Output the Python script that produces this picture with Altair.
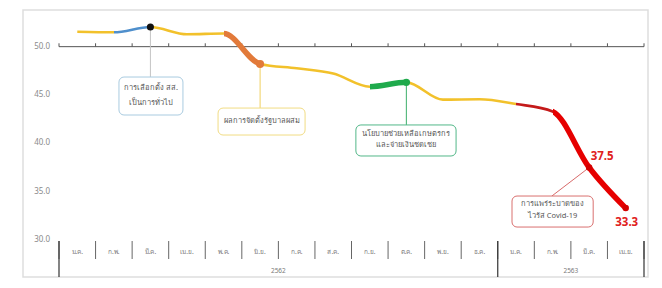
import altair as alt
import pandas as pd

# ---------------- data ----------------
months = ["ม.ค.", "ก.พ.", "มี.ค.", "เม.ย.", "พ.ค.", "มิ.ย.", "ก.ค.", "ส.ค.",
          "ก.ย.", "ต.ค.", "พ.ย.", "ธ.ค.", "ม.ค.", "ก.พ.", "มี.ค.", "เม.ย."]
years = ["2562", "2563"]
year_mid = [6, 14]
year_bounds = [0, 12, 16]
values = [51.55, 51.49, 52.03, 51.28, 51.36, 48.21, 47.76, 47.22,
          45.86, 46.31, 44.52, 44.56, 44.07, 43.3, 37.5, 33.3]
y_ticks = [30, 35, 40, 45, 50]

# coloured stretches of the line (from month index, to month index, colour)
thin_from = [1, 4, 8, 12, 13]
thin_to = [2, 5, 9, 13, 15]
thin_col = ["#4f8fcc", "#e27a3a", "#1faa4c", "#c41a1a", "#e60000"]
thick_from = [4, 8, 13]
thick_to = [5, 9, 15]
thick_col = ["#e27a3a", "#1faa4c", "#e60000"]
base_col = "#f2c12b"

# highlighted points (month index, colour, size)
dot_idx = [2, 5, 9, 14, 15]
dot_col = ["#111111", "#e27a3a", "#1faa4c", "#d40000", "#d40000"]
dot_size = [50, 64, 55, 42, 42]

# annotation boxes (in month / value units)
box_x1 = [1.64, 4.35, 8.12, 12.39]
box_x2 = [3.39, 6.73, 10.86, 14.61]
box_y1 = [46.86, 43.65, 41.90, 34.55]
box_y2 = [42.93, 40.86, 38.69, 31.34]
box_stroke = ["#a9cbe0", "#f1dc84", "#52b788", "#d9706f"]

# connectors: from point to box
con_x = [2.5, 5.5, 9.5, 14.5]
con_y = [52.03, 48.21, 46.31, 37.5]
con_x2 = [2.5, 5.5, 9.5, 13.48]
con_y2 = [46.86, 43.65, 41.90, 34.55]
con_col = ["#c4c4c4", "#f0d060", "#3cae6a", "#d86a6a"]

ann_text = ["การเลือกตั้ง สส.", "เป็นการทั่วไป", "ผลการจัดตั้งรัฐบาลผสม",
            "นโยบายช่วยเหลือเกษตรกร", "และจ่ายเงินชดเชย",
            "การแพร่ระบาดของ", "ไวรัส Covid-19"]
ann_x = [2.52, 2.52, 5.54, 9.49, 9.49, 13.5, 13.5]
ann_y = [45.72, 44.17, 42.26, 40.97, 39.83, 33.72, 32.48]

val_labels = ["37.5", "33.3"]
val_idx = [14, 15]
val_dx = [13, 1]
val_dy = [-11, 15]

# ---------------- frames ----------------
df = pd.DataFrame({"m": [i + 0.5 for i in range(16)], "v": values, "label": months})
xs = alt.Scale(domain=[0, 16], nice=False, zero=False)
ys = alt.Scale(domain=[30, 54], nice=False, zero=False)
xenc = alt.X("m:Q", scale=xs, axis=None)
yenc = alt.Y("v:Q", scale=ys, axis=None)

n = len(values) - 1.0
T = "rgba(0,0,0,0)"


def grad(default, starts, ends, cols):
    stops = [(0.0, default)]
    for s, e, c in zip(starts, ends, cols):
        stops += [(s / n, default), (s / n, c), (e / n, c), (e / n, default)]
    stops.append((1.0, default))
    stops = sorted(stops, key=lambda t: t[0])
    return alt.Gradient(gradient="linear", x1=0, x2=1, y1=0, y2=0,
                        stops=[alt.GradientStop(offset=o, color=c) for o, c in stops])


# keep order stable for equal offsets
def grad_ordered(default, starts, ends, cols):
    stops = [(0.0, default)]
    for s, e, c in zip(starts, ends, cols):
        stops += [(s / n, stops[-1][1] if stops[-1][0] == s / n else default), (s / n, c), (e / n, c)]
        stops.append((e / n, default))
    stops.append((1.0, stops[-1][1]))
    return alt.Gradient(gradient="linear", x1=0, x2=1, y1=0, y2=0,
                        stops=[alt.GradientStop(offset=o, color=c) for o, c in stops])


thin_grad = grad_ordered(base_col, thin_from, thin_to, thin_col)
thick_grad = grad_ordered(T, thick_from, thick_to, thick_col)

# panel border
one = pd.DataFrame({"a": [0]})
panel = alt.Chart(one).mark_rect(fill="white", stroke="#dedede", strokeWidth=1.5).encode(
    x=alt.value(-36), x2=alt.value(589), y=alt.value(2), y2=alt.value(269))

# y labels
ylabels = alt.Chart(pd.DataFrame({"v": y_ticks})).mark_text(
    align="right", baseline="middle", fontSize=8, color="#8a8a8a", font="Noto Sans").encode(
    x=alt.value(-9), y=yenc, text=alt.Text("v:Q", format=".1f"))

base_line = alt.Chart(df).mark_line(interpolate="monotone", strokeWidth=2.6,
                                    stroke=thin_grad).encode(x=xenc, y=yenc)
thick_line = alt.Chart(df).mark_line(interpolate="monotone", strokeWidth=5.5,
                                     stroke=thick_grad).encode(x=xenc, y=yenc)

# horizontal line at 50 with ticks
bnd = pd.DataFrame({"b": list(range(17))})
hline = alt.Chart(pd.DataFrame({"a": [0], "b": [16], "v": [50]})).mark_rule(
    color="#555555", strokeWidth=1).encode(
    x=alt.X("a:Q", scale=xs, axis=None), x2="b:Q", y=yenc)
tdf_ticks = pd.DataFrame({"b": list(range(17)), "v": [50] * 17, "v2": [50.35] * 17})
hticks = alt.Chart(tdf_ticks).mark_rule(color="#555555", strokeWidth=1).encode(
    x=alt.X("b:Q", scale=xs, axis=None), y=yenc, y2="v2:Q")

# category axis at bottom
msep = alt.Chart(bnd).mark_rule(color="#666666", strokeWidth=1).encode(
    x=alt.X("b:Q", scale=xs, axis=None), y=alt.value(233), y2=alt.value(251))
ysep = alt.Chart(pd.DataFrame({"b": year_bounds})).mark_rule(color="#333333", strokeWidth=1.2).encode(
    x=alt.X("b:Q", scale=xs, axis=None), y=alt.value(233), y2=alt.value(269))
mlab = alt.Chart(df).mark_text(fontSize=6.5, color="#7a7a7a", font="Noto Sans", baseline="middle").encode(
    x=xenc, y=alt.value(244), text="label:N")
ylab = alt.Chart(pd.DataFrame({"m": year_mid, "t": years})).mark_text(
    fontSize=6.5, color="#7a7a7a", font="Noto Sans", baseline="middle").encode(
    x=alt.X("m:Q", scale=xs, axis=None), y=alt.value(263), text="t:N")

# connectors
cdf = pd.DataFrame({"x": con_x, "y": con_y, "x2": con_x2, "y2": con_y2, "c": con_col})
conns = alt.Chart(cdf).mark_rule(strokeWidth=1).encode(
    x=alt.X("x:Q", scale=xs, axis=None), x2="x2:Q",
    y=alt.Y("y:Q", scale=ys, axis=None), y2="y2:Q",
    color=alt.Color("c:N", scale=None))

# boxes
bdf = pd.DataFrame({"x": box_x1, "x2": box_x2, "y": box_y1, "y2": box_y2, "c": box_stroke})
boxes = alt.Chart(bdf).mark_rect(fill="white", strokeWidth=1, cornerRadius=5).encode(
    x=alt.X("x:Q", scale=xs, axis=None), x2="x2:Q",
    y=alt.Y("y:Q", scale=ys, axis=None), y2="y2:Q",
    stroke=alt.Stroke("c:N", scale=None))

tdf = pd.DataFrame({"x": ann_x, "y": ann_y, "t": ann_text})
texts = alt.Chart(tdf).mark_text(fontSize=7.5, color="#555555", font="Noto Sans",
                                 baseline="middle").encode(
    x=alt.X("x:Q", scale=xs, axis=None), y=alt.Y("y:Q", scale=ys, axis=None), text="t:N")

# dots
ddf = pd.DataFrame({"m": [i + 0.5 for i in dot_idx], "v": [values[i] for i in dot_idx],
                    "c": dot_col, "s": dot_size})
dots = alt.Chart(ddf).mark_circle(opacity=1).encode(
    x=xenc, y=yenc,
    color=alt.Color("c:N", scale=None), size=alt.Size("s:Q", scale=None))

# value labels
vlayers = []
for lab, i, dx, dy in zip(val_labels, val_idx, val_dx, val_dy):
    vdf = pd.DataFrame({"m": [i + 0.5], "v": [values[i]], "t": [lab]})
    vlayers.append(alt.Chart(vdf).mark_text(fontSize=11.5, fontWeight="bold", color="#e02020",
                                            font="Noto Sans", dx=dx, dy=dy, baseline="middle").encode(
        x=xenc, y=yenc, text="t:N"))

chart = alt.layer(panel, ylabels, hline, hticks, msep, ysep, mlab, ylab, conns, boxes, texts,
                  base_line, thick_line, dots, *vlayers).properties(
    width=585, height=232,
    autosize=alt.AutoSizeParams(type="none"),
    padding={"left": 51, "top": 0, "right": 10, "bottom": 40},
    background="white",
).configure_view(stroke=None)

chart.save("out.html", embed_options={"renderer": "svg", "actions": False})
